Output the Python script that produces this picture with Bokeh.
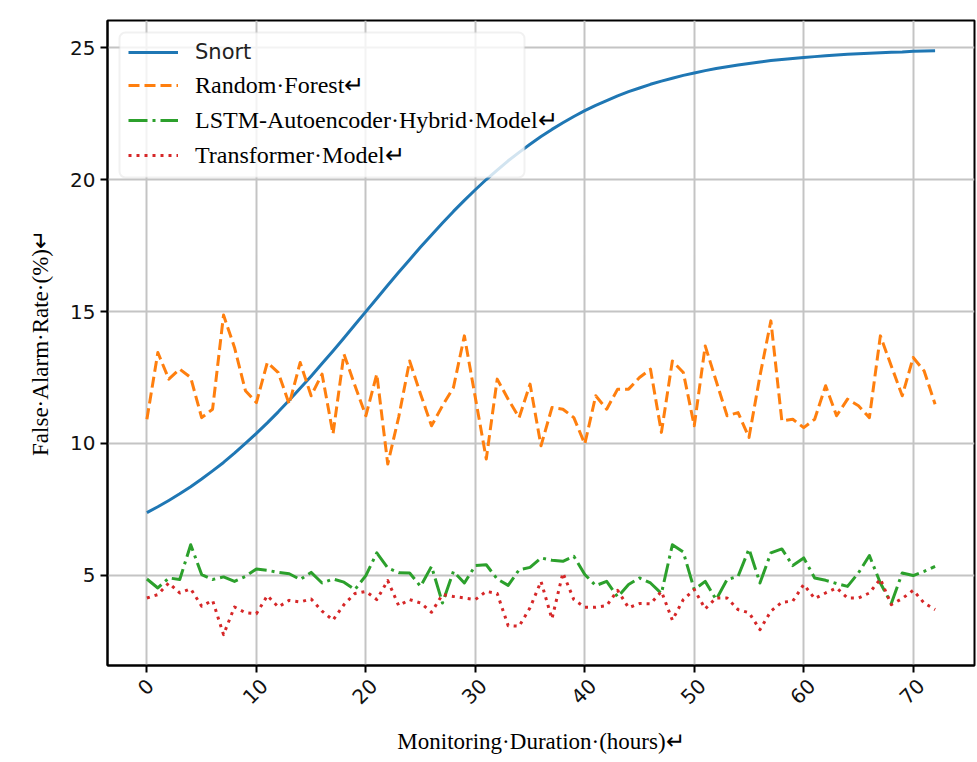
import math
from bokeh.plotting import figure
from bokeh.models import (Range1d, FixedTicker, Legend, LegendItem, BoxAnnotation,
                          ColumnDataSource, LinearAxis)
from bokeh.embed import file_html
from bokeh.resources import INLINE

# ---------------- data ----------------
hours = list(range(73))

snort = [7.38, 7.60, 7.84, 8.09, 8.36, 8.65, 8.96, 9.28, 9.63, 10.00,
         10.38, 10.78, 11.20, 11.64, 12.09, 12.55, 13.03, 13.51, 14.00, 14.50,
         15.00, 15.50, 16.00, 16.49, 16.97, 17.45, 17.91, 18.36, 18.80, 19.22,
         19.62, 20.01, 20.37, 20.72, 21.04, 21.35, 21.64, 21.91, 22.16, 22.40,
         22.62, 22.82, 23.00, 23.18, 23.34, 23.48, 23.62, 23.74, 23.85, 23.96,
         24.05, 24.14, 24.22, 24.29, 24.35, 24.41, 24.47, 24.52, 24.56, 24.60,
         24.64, 24.67, 24.70, 24.73, 24.76, 24.78, 24.80, 24.82, 24.84, 24.85,
         24.87, 24.88, 24.89]

random_forest = [10.92, 13.45, 12.44, 12.82, 12.50, 10.98, 11.30, 14.87, 13.64, 12.00,
                 11.55, 13.07, 12.69, 11.49, 13.07, 11.81, 12.63, 10.36, 13.39, 12.20,
                 11.05, 12.63, 9.22, 11.00, 13.13, 11.87, 10.67, 11.43, 12.12, 14.08,
                 11.74, 9.41, 12.44, 11.68, 10.98, 12.25, 9.91, 11.36, 11.30, 10.98,
                 9.98, 11.81, 11.30, 12.06, 12.06, 12.50, 12.82, 10.42, 13.13, 12.69,
                 10.67, 13.70, 12.37, 11.05, 11.17, 10.23, 12.56, 14.65, 10.86, 10.92,
                 10.60, 10.92, 12.19, 11.05, 11.68, 11.43, 10.98, 14.08, 12.94, 11.81,
                 13.26, 12.75, 11.49]

lstm_autoencoder = [4.86, 4.52, 4.90, 4.84, 6.16, 5.03, 4.84, 4.94, 4.77, 4.96,
                    5.24, 5.19, 5.11, 5.06, 4.84, 5.11, 4.71, 4.86, 4.74, 4.46,
                    4.99, 5.85, 5.28, 5.10, 5.09, 4.58, 5.34, 3.95, 5.15, 4.71,
                    5.37, 5.40, 4.86, 4.62, 5.21, 5.30, 5.66, 5.57, 5.53, 5.72,
                    5.03, 4.61, 4.77, 4.18, 4.65, 4.90, 4.71, 4.31, 6.16, 5.88,
                    4.46, 4.77, 4.08, 4.84, 4.96, 6.00, 4.71, 5.85, 6.00, 5.37,
                    5.66, 4.90, 4.81, 4.69, 4.58, 5.09, 5.75, 4.71, 3.93, 5.09,
                    4.99, 5.15, 5.34]

transformer = [4.14, 4.27, 4.71, 4.33, 4.49, 3.83, 4.05, 2.75, 3.80, 3.58,
               3.54, 4.23, 3.80, 4.05, 3.99, 4.10, 3.64, 3.30, 3.89, 4.31,
               4.39, 4.08, 4.80, 3.85, 4.08, 3.95, 3.60, 4.27, 4.20, 4.14,
               4.08, 4.39, 4.31, 3.09, 3.07, 3.77, 4.77, 3.35, 5.09, 4.08,
               3.79, 3.79, 3.85, 4.43, 3.77, 3.93, 3.92, 4.39, 3.30, 4.08,
               4.46, 3.73, 4.14, 4.14, 3.70, 3.58, 2.94, 3.64, 3.98, 4.02,
               4.65, 4.12, 4.33, 4.52, 4.14, 4.14, 4.33, 4.86, 3.89, 4.12,
               4.43, 3.95, 3.70]

x_ticks = [0, 10, 20, 30, 40, 50, 60, 70]
y_ticks = [5, 10, 15, 20, 25]

series_labels = ["Snort", "Random\u00b7Forest\u21b5",
                 "LSTM-Autoencoder\u00b7Hybrid\u00b7Model\u21b5",
                 "Transformer\u00b7Model\u21b5"]
x_label = "Monitoring\u00b7Duration\u00b7(hours)\u21b5"
y_label = "False\u00b7Alarm\u00b7Rate\u00b7(%)\u21b5"

# ---------------- figure ----------------
source = ColumnDataSource(dict(hours=hours, snort=snort, rf=random_forest,
                               lstm=lstm_autoencoder, tr=transformer))

X0, X1 = -3.6, 75.6
FRAME_W = 974 - 107
p = figure(width=976, height=760, output_backend="svg", toolbar_location=None,
           x_range=Range1d(X0, X1), y_range=Range1d(1.58, 26.04),
           min_border_left=107, min_border_right=2, min_border_top=20,
           min_border_bottom=95)
p.background_fill_color = "white"
p.border_fill_color = "white"
p.outline_line_color = "black"
p.outline_line_width = 2

# grid
for g in (p.xgrid, p.ygrid):
    g.grid_line_color = "#c4c4c4"
    g.grid_line_width = 2
p.xgrid.ticker = FixedTicker(ticks=x_ticks)
p.ygrid.ticker = FixedTicker(ticks=y_ticks)

# axes
p.xaxis.ticker = FixedTicker(ticks=x_ticks)
p.yaxis.ticker = FixedTicker(ticks=y_ticks)
for ax in (p.xaxis, p.yaxis):
    ax.axis_line_color = "black"
    ax.axis_line_width = 2
    ax.major_tick_line_color = "black"
    ax.major_tick_line_width = 2
    ax.major_tick_out = 7
    ax.major_tick_in = 0
    ax.minor_tick_line_color = None
    ax.major_label_text_font = "DejaVu Sans"
    ax.major_label_text_font_size = "20px"
    ax.major_label_text_color = "#111111"
    ax.axis_label_text_font = "Liberation Serif"
    ax.axis_label_text_font_size = "23px"
    ax.axis_label_text_font_style = "normal"
    ax.axis_label_text_color = "black"
p.yaxis.axis_label = y_label
p.yaxis.axis_label_standoff = 14

# first x axis: only the tick marks
p.xaxis.major_label_overrides = {t: "" for t in x_ticks}
p.xaxis.major_label_standoff = 0

# second x axis: the rotated tick labels, centred under their ticks, and the title
px_per_unit = FRAME_W / (X1 - X0)
label_pos = []
label_map = {}
for t in x_ticks:
    s = str(t)
    shift_px = 12.7 * len(s) / 2.83 - 1.0
    pos = round(t + shift_px / px_per_unit, 4)
    label_pos.append(pos)
    label_map[pos] = s

xlab = LinearAxis(ticker=FixedTicker(ticks=label_pos),
                  major_label_overrides=label_map,
                  major_label_orientation=math.pi / 4,
                  axis_line_color=None, major_tick_line_color=None,
                  minor_tick_line_color=None, major_tick_out=0, major_tick_in=0,
                  major_label_standoff=10,
                  major_label_text_font="DejaVu Sans",
                  major_label_text_font_size="20px",
                  major_label_text_color="#111111",
                  axis_label=x_label, axis_label_standoff=16,
                  axis_label_text_font="Liberation Serif",
                  axis_label_text_font_size="23px",
                  axis_label_text_font_style="normal",
                  axis_label_text_color="black")
p.add_layout(xlab, "below")

# lines
r_snort = p.line("hours", "snort", source=source, line_color="#1f77b4",
                 line_width=3, line_join="round")
r_rf = p.line("hours", "rf", source=source, line_color="#ff7f0e",
              line_width=3, line_dash="11 5", line_join="round")
r_lstm = p.line("hours", "lstm", source=source, line_color="#2ca02c",
                line_width=3, line_dash="19 5 3 5", line_join="round")
r_tr = p.line("hours", "tr", source=source, line_color="#d62728",
              line_width=3, line_dash="3 5", line_join="round")

# legend background box (frame-relative screen units)
box = BoxAnnotation(left=12, right=417, top=633, bottom=488,
                    left_units="screen", right_units="screen",
                    top_units="screen", bottom_units="screen",
                    fill_color="white", fill_alpha=0.8,
                    line_color="#cfcfcf", line_width=2, border_radius=6)
p.add_layout(box)

common = dict(border_line_color=None, background_fill_alpha=0, padding=0,
              margin=0, glyph_width=50, glyph_height=28, label_height=28,
              label_standoff=17, spacing=7, label_text_baseline="middle")

leg_a = Legend(items=[LegendItem(label=series_labels[0], renderers=[r_snort])],
               location=(21, 599), label_text_font="DejaVu Sans",
               label_text_font_size="21px", label_text_color="#222222", **common)
leg_b = Legend(items=[LegendItem(label=series_labels[1], renderers=[r_rf]),
                      LegendItem(label=series_labels[2], renderers=[r_lstm]),
                      LegendItem(label=series_labels[3], renderers=[r_tr])],
               location=(21, 496), label_text_font="Liberation Serif",
               label_text_font_size="24px", label_text_color="black", **common)
p.add_layout(leg_a)
p.add_layout(leg_b)

with open("out.html", "w", encoding="utf-8") as f:
    f.write(file_html(p, INLINE))
